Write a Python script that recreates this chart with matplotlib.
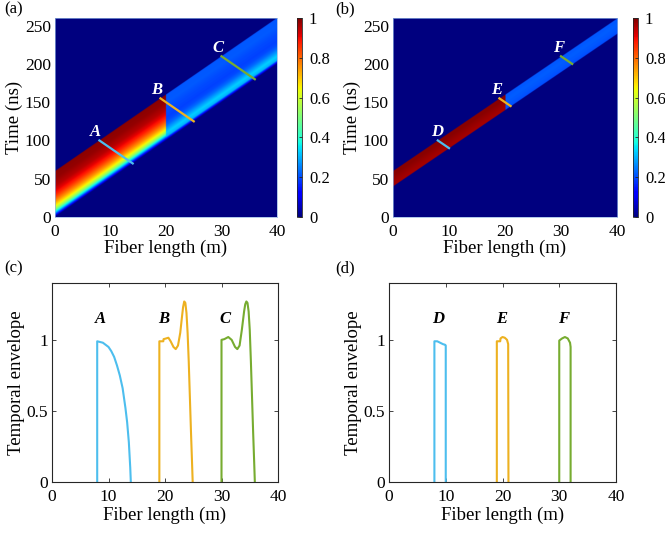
import numpy as np
import matplotlib
matplotlib.use("Agg")
import matplotlib.pyplot as plt

plt.rcParams['font.family'] = ['Liberation Serif', 'DejaVu Serif']
plt.rcParams['mathtext.fontset'] = 'stix'

# %%
# data

# pulse band in the (z, t) map: upper edge t = delay*z + t_top0
delay = 5.0          # ns per m
t_top0 = 60.0        # ns
z_switch = 20.0      # m, where the map changes

# map (a): intensity vs. ns below the upper edge of the band
band_d_a = [0, 10, 20, 30, 35, 40, 45, 50, 55, 60]
heat_a_left = [0.99, 0.98, 0.95, 0.88, 0.82, 0.75, 0.66, 0.52, 0.28, 0.0]
heat_a_right = [0.21, 0.215, 0.20, 0.19, 0.20, 0.23, 0.28, 0.33, 0.30, 0.0]

# map (b)
band_d_b = [0, 5, 10, 15, 20]
heat_b_left = [0.99, 0.99, 0.98, 0.97, 0.965]
heat_b_right = [0.21, 0.215, 0.215, 0.21, 0.20]

# cuts drawn on the maps: (z0, t0) -> (z1, t1)
cuts_a = {"A": [(8, 100), (14, 70)], "B": [(19, 155), (25, 125)], "C": [(30, 210), (36, 180)]}
cuts_b = {"D": [(8, 100), (10, 90)], "E": [(19, 155), (21, 145)], "F": [(30, 210), (32, 200)]}

# temporal envelopes along the cuts
A_z = [8, 8, 9, 10, 10.5, 11, 11.5, 12, 12.5, 13, 13.3, 13.6, 13.85, 13.95]
A_v = [0, 0.99, 0.98, 0.95, 0.92, 0.88, 0.82, 0.75, 0.66, 0.52, 0.42, 0.28, 0.10, 0]
B_z = [19, 19, 19.7, 19.75, 20.2, 20.6, 21.0, 21.5, 21.9, 22.3, 22.7, 23.0, 23.2, 23.4, 23.6,
       23.8, 24.0, 24.2, 24.4, 24.6, 24.8, 24.9]
B_v = [0, 0.99, 0.99, 1.005, 1.01, 1.015, 0.99, 0.95, 0.935, 0.96, 1.05, 1.16, 1.23, 1.27, 1.26,
       1.19, 1.05, 0.85, 0.6, 0.35, 0.12, 0]
C_z = [30, 30, 30.5, 31.2, 31.8, 32.4, 32.8, 33.2, 33.6, 34.0, 34.2, 34.4, 34.6, 34.8,
       35.0, 35.2, 35.4, 35.6, 35.8, 35.9]
C_v = [0, 1.0, 1.005, 1.02, 1.0, 0.95, 0.935, 0.96, 1.07, 1.2, 1.25, 1.27, 1.26, 1.2,
       1.07, 0.85, 0.6, 0.35, 0.12, 0]
D_z = [8, 8, 8.5, 9, 9.5, 9.9, 10, 10]
D_v = [0, 0.99, 0.99, 0.98, 0.97, 0.965, 0.96, 0]
E_z = [19, 19, 19.6, 19.65, 20.0, 20.4, 20.8, 21.0, 21.05]
E_v = [0, 0.99, 0.99, 1.01, 1.02, 1.015, 1.0, 0.97, 0]
F_z = [30, 30, 30.5, 31, 31.5, 31.9, 32, 32]
F_v = [0, 0.995, 1.01, 1.02, 1.01, 0.98, 0.95, 0]

col_A = "#4DBEEE"
col_B = "#EDB120"
col_C = "#77AC30"
cut_colors = [col_A, col_B, col_C]

label_pos_a = {"A": (7.2, 111), "B": (18.4, 166), "C": (29.4, 221)}
label_pos_b = {"D": (7.9, 111), "E": (18.6, 166), "F": (29.5, 221)}

# %%
# build the maps

def make_map(band_d, left_vals, right_vals, nz=800, nt=520):
    z = np.linspace(0, 40, nz)
    t = np.linspace(0, 260, nt)
    Z, T = np.meshgrid(z, t)
    d = delay*Z + t_top0 - T
    inside = (d >= 0) & (d <= band_d[-1])
    left = np.interp(d, band_d, left_vals)
    right = np.interp(d, band_d, right_vals)
    img = np.where(Z < z_switch, left, right)
    return np.where(inside, img, 0.0)

W, H = 665, 533
fig = plt.figure(figsize=(W/100, H/100), dpi=100)

def px_axes(x0, x1, y0, y1):
    return fig.add_axes([x0/W, 1 - y1/H, (x1 - x0)/W, (y1 - y0)/H])

tick_fs = 12.5
label_fs = 13.5
spine_col = "#262626"

def heat_panel(ax, cax, img, cuts, labels):
    im = ax.imshow(img, extent=[0, 40, 0, 260], origin="lower", aspect="auto",
                   cmap="jet", vmin=0, vmax=1, interpolation="bilinear")
    for (name, seg), c in zip(cuts.items(), cut_colors):
        ax.plot([seg[0][0], seg[1][0]], [seg[0][1], seg[1][1]], color=c, lw=1.6)
        ax.text(labels[name][0], labels[name][1], name, color="white", fontsize=12,
                fontweight="bold", fontstyle="italic", ha="center", va="center")
    ax.set_xlim(0, 40)
    ax.set_ylim(0, 260)
    ax.set_xticks([0, 10, 20, 30, 40])
    ax.set_yticks([0, 50, 100, 150, 200, 250])
    ax.tick_params(direction="in", length=0, labelsize=tick_fs, pad=3)
    ax.tick_params(axis="x", pad=5)
    for s in ax.spines.values():
        s.set_linewidth(0.5)
        s.set_color("#8fb0e0")
    ax.set_xlabel("Fiber length (m)", fontsize=label_fs, labelpad=0)
    ax.set_ylabel("Time (ns)", fontsize=label_fs, labelpad=1)
    cb = fig.colorbar(im, cax=cax)
    cb.set_ticks([0, 0.2, 0.4, 0.6, 0.8, 1])
    cb.set_ticklabels(["0", "0.2", "0.4", "0.6", "0.8", "1"])
    cax.tick_params(direction="in", length=2, width=0.6, labelsize=tick_fs - 0.5, pad=5,
                    color=spine_col)
    cb.outline.set_linewidth(0.6)
    cb.outline.set_edgecolor(spine_col)

def env_panel(ax, curves, names, label_x):
    for (zz, vv), c in zip(curves, cut_colors):
        ax.plot(zz, vv, color=c, lw=1.5)
    for n, lx in zip(names, label_x):
        ax.text(lx, 1.15, n, color="black", fontsize=12, fontweight="bold",
                fontstyle="italic", ha="center", va="center")
    ax.set_xlim(0, 40)
    ax.set_ylim(0, 1.4)
    ax.set_xticks([0, 10, 20, 30, 40])
    ax.set_yticks([0, 0.5, 1])
    ax.set_yticklabels(["0", "0.5", "1"])
    ax.tick_params(direction="in", length=3, width=0.6, labelsize=tick_fs, pad=3,
                   top=True, right=True, color=spine_col)
    ax.tick_params(axis="x", pad=5)
    for s in ax.spines.values():
        s.set_linewidth(0.8)
        s.set_color(spine_col)
    ax.set_xlabel("Fiber length (m)", fontsize=label_fs, labelpad=1)
    ax.set_ylabel("Temporal envelope", fontsize=label_fs, labelpad=1)

ax_a = px_axes(55, 277, 18, 217)
cax_a = px_axes(297, 302, 18, 217)
heat_panel(ax_a, cax_a, make_map(band_d_a, heat_a_left, heat_a_right), cuts_a, label_pos_a)

ax_b = px_axes(393, 617, 18, 217)
cax_b = px_axes(633, 638, 18, 217)
heat_panel(ax_b, cax_b, make_map(band_d_b, heat_b_left, heat_b_right), cuts_b, label_pos_b)

ax_c = px_axes(52, 278, 283, 482)
env_panel(ax_c, [(A_z, A_v), (B_z, B_v), (C_z, C_v)], ["A", "B", "C"], [8.5, 19.7, 30.6])

ax_d = px_axes(389, 616, 283, 482)
env_panel(ax_d, [(D_z, D_v), (E_z, E_v), (F_z, F_v)], ["D", "E", "F"], [8.6, 19.9, 30.7])

for lab, (x, y) in zip(["(a)", "(b)", "(c)", "(d)"],
                       [(14, 9), (345, 9), (14, 268), (345, 268)]):
    fig.text(x/W, 1 - y/H, lab, fontsize=12, ha="center", va="center")

fig.savefig("out.png", dpi=100)
